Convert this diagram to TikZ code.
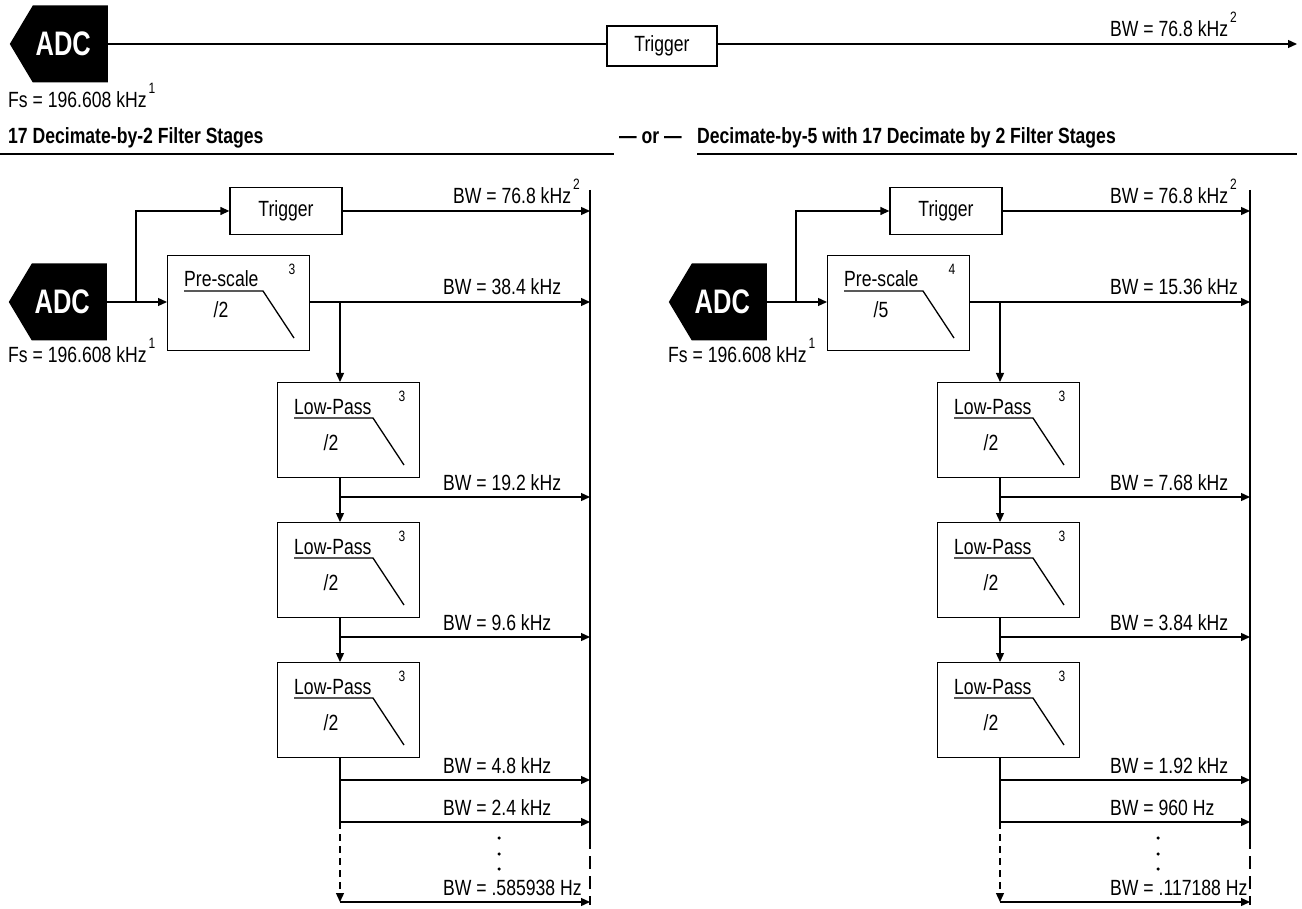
\documentclass[tikz,border=0pt]{standalone}
\usepackage{fontspec}
\setmainfont[FakeStretch=0.8]{Liberation Sans}
\newfontfamily\adcfont[FakeStretch=0.75]{Liberation Sans}
\usetikzlibrary{arrows.meta}
\newcommand\supr[1]{\hspace{2pt}\raisebox{14pt}{\fontsize{15}{15}\selectfont #1}}
\tikzset{
  ln/.style={line width=1.3pt},
  conn/.style={ln, -{Triangle[length=9pt,width=8pt]}},
  bar/.style={line width=2.6pt},
  adc/.style={rectangle, text=white, font=\fontsize{34}{34}\adcfont\bfseries,
    minimum width=98pt, minimum height=77pt, inner sep=0pt,
    path picture={\fill[black] (path picture bounding box.west)
      -- ([xshift=23pt]path picture bounding box.north west)
      -- (path picture bounding box.north east)
      -- (path picture bounding box.south east)
      -- ([xshift=23pt]path picture bounding box.south west) -- cycle;}},
  fbx/.style={draw, line width=1.3pt, minimum width=142pt, minimum height=95pt, inner sep=0pt},
  trig/.style={draw, line width=1.3pt, minimum width=112pt, minimum height=47pt, inner sep=0pt},
  bw/.style={anchor=base west, inner sep=0pt},
  hdr/.style={anchor=base west, inner sep=0pt, font=\fontsize{22}{25}\selectfont\bfseries},
  supf/.style={inner sep=0pt, font=\fontsize{15}{15}\selectfont},
  dotf/.style={fill=black, circle, inner sep=0pt, minimum size=3.5pt}
}
\newcommand\filterstage[7]{%
  \node[fbx, anchor=north west] (#1) at (#2,#3) {};
  \node[bw] (#1t) at ([shift={(17,32)}]#1.north west) {#4};
  \draw[ln] ([shift={(17,36)}]#1.north west) -- ([shift={(96,36)}]#1.north west) -- ([shift={(127,83)}]#1.north west);
  \node[anchor=base, inner sep=0pt] (#1d) at ([shift={(54,#7)}]#1.north west) {#5};
  \node[supf] (#1s) at ([shift={(125,14)}]#1.north west) {#6};
}
\newcommand\drawpanel[3]{%
\begin{scope}[xshift=#1]
  \node[adc, anchor=east] (adc#2) at (107,302) {\hspace*{9pt}ADC};
  \node[bw] (fs#2) at (8,363) {Fs = 196.608 kHz\supr{1}};
  \coordinate (br#2) at (136,302);
  \node[trig] (tr#2) at (286,211) {Trigger};
  \filterstage{ps#2}{167}{255}{Pre-scale}{\pdiv}{\psup}{63}
  \filterstage{lpa#2}{277}{382}{Low-Pass}{/2}{3}{68}
  \filterstage{lpb#2}{277}{522}{Low-Pass}{/2}{3}{68}
  \filterstage{lpc#2}{277}{662}{Low-Pass}{/2}{3}{68}
  \coordinate (bartop#2) at (590,190);
  \coordinate (barmid#2) at (590,836);
  \coordinate (barbot#2) at (590,905);
  \coordinate (v0#2) at (340,302);
  \coordinate (v1#2) at (340,497);
  \coordinate (v2#2) at (340,637);
  \coordinate (v3#2) at (340,780);
  \coordinate (v4#2) at (340,822);
  \coordinate (v5#2) at (340,902);
  \draw[bar] (bartop#2) -- (barmid#2);
  \draw[bar, dash pattern=on 13pt off 7pt] (barmid#2) -- (barbot#2);
  \draw[conn] (adc#2.east) -- (adc#2.east -| ps#2.west);
  \draw[conn] (br#2) |- (tr#2.west);
  \draw[conn] (tr#2.east) -- (tr#2.east -| bartop#2);
  \draw[conn] (v0#2 -| ps#2.east) -- (v0#2 -| bartop#2);
  \draw[conn] (v0#2) -- (v0#2 |- lpa#2.north);
  \draw[ln] (v0#2 |- lpa#2.south) -- (v1#2);
  \draw[conn] (v1#2) -- (v1#2 -| bartop#2);
  \draw[conn] (v1#2) -- (v1#2 |- lpb#2.north);
  \draw[ln] (v0#2 |- lpb#2.south) -- (v2#2);
  \draw[conn] (v2#2) -- (v2#2 -| bartop#2);
  \draw[conn] (v2#2) -- (v2#2 |- lpc#2.north);
  \draw[ln] (v0#2 |- lpc#2.south) -- (v4#2);
  \draw[conn] (v3#2) -- (v3#2 -| bartop#2);
  \draw[conn] (v4#2) -- (v4#2 -| bartop#2);
  \draw[conn, dash pattern=on 7pt off 5pt] (v4#2) -- (v5#2);
  \draw[conn] (v5#2) -- (v5#2 -| bartop#2);
  \node[bw] (lT#2) at (\lxT,204) {BW = 76.8 kHz\supr{2}};
  \node[bw] (la#2) at (#3,295) {\bwa};
  \node[bw] (lb#2) at (#3,490) {\bwb};
  \node[bw] (lc#2) at (#3,630) {\bwc};
  \node[bw] (ld#2) at (#3,773) {\bwd};
  \node[bw] (le#2) at (#3,815) {\bwe};
  \node[bw] (lf#2) at (#3,895) {\bwf};
  \node[dotf] (d1#2) at (\dx,838) {};
  \node[dotf] (d2#2) at (\dx,854) {};
  \node[dotf] (d3#2) at (\dx,869) {};
\end{scope}}
\begin{document}
\begin{tikzpicture}[x=1pt,y=-1pt,font=\fontsize{22}{25}\selectfont]
\fill[white] (0,0) rectangle (1302,909);
\useasboundingbox (0,0) rectangle (1302,909);
% top row
\node[adc, anchor=east] (adcT) at (108,44) {\hspace*{9pt}ADC};
\node[bw] (fsT) at (8,108) {Fs = 196.608 kHz\supr{1}};
\node[trig, minimum width=110pt, minimum height=40pt] (trT) at (662,46) {Trigger};
\coordinate (endT) at (1297,44);
\draw[ln] (adcT.east) -- (adcT.east -| trT.west);
\draw[conn] (trT.east |- endT) -- (endT);
\node[bw] (lTT) at (1110,37) {BW = 76.8 kHz\supr{2}};
% headers
\node[hdr] (h1) at (8,144) {17 Decimate-by-2 Filter Stages};
\node[hdr] (hor) at (619,144) {— or —};
\node[hdr] (h2) at (697,144) {Decimate-by-5 with 17 Decimate by 2 Filter Stages};
\coordinate (r1a) at (0,154); \coordinate (r1b) at (614,154);
\coordinate (r2a) at (697,154); \coordinate (r2b) at (1297,154);
\draw[ln] (r1a) -- (r1b);
\draw[ln] (r2a) -- (r2b);
% panels
\def\pdiv{/2}\def\psup{3}\def\lxT{453}\def\dx{499}
\def\bwa{BW = 38.4 kHz}\def\bwb{BW = 19.2 kHz}\def\bwc{BW = 9.6 kHz}
\def\bwd{BW = 4.8 kHz}\def\bwe{BW = 2.4 kHz}\def\bwf{BW = .585938 Hz}
\drawpanel{0pt}{L}{443}
\def\pdiv{/5}\def\psup{4}\def\lxT{450}\def\dx{498}
\def\bwa{BW = 15.36 kHz}\def\bwb{BW = 7.68 kHz}\def\bwc{BW = 3.84 kHz}
\def\bwd{BW = 1.92 kHz}\def\bwe{BW = 960 Hz}\def\bwf{BW = .117188 Hz}
\drawpanel{660pt}{R}{450}
\end{tikzpicture}
\end{document}
